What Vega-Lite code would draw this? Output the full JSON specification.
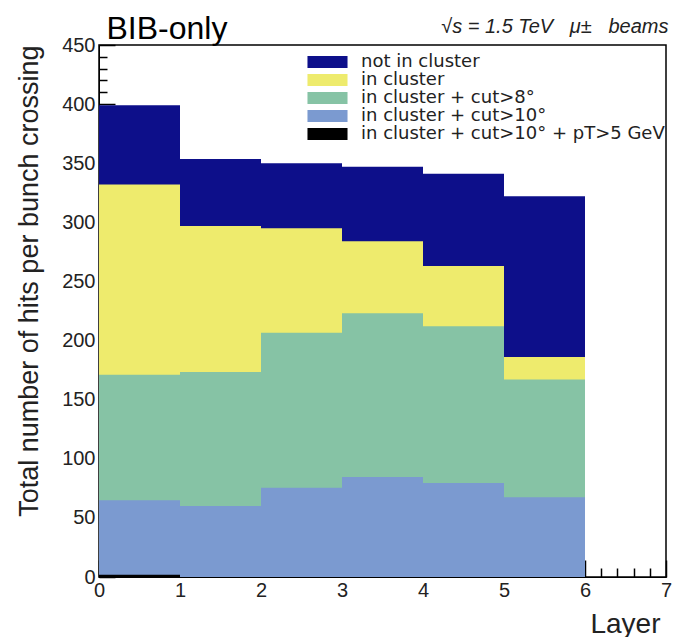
{
  "$schema": "https://vega.github.io/schema/vega-lite/v6.json",
  "width": 567,
  "height": 532,
  "autosize": {"type": "none"},
  "padding": {"left": 99, "top": 45, "right": 10, "bottom": 60},
  "background": "white",
  "config": {
    "font": "Liberation Sans",
    "view": {"stroke": "black", "strokeWidth": 1.5},
    "axis": {"grid": false, "zindex": 1, "labelFlush": false, "domainColor": "black", "tickColor": "black", "tickWidth": 1.5, "labelColor": "#222", "titleColor": "#222", "labelFont": "Liberation Sans", "titleFont": "Liberation Sans", "titleFontWeight": "normal"}
  },
  "data": {
    "values": [
      {"series": "not in cluster", "x0": 0, "x1": 1, "value": 399},
      {"series": "not in cluster", "x0": 1, "x1": 2, "value": 353.5},
      {"series": "not in cluster", "x0": 2, "x1": 3, "value": 350},
      {"series": "not in cluster", "x0": 3, "x1": 4, "value": 347},
      {"series": "not in cluster", "x0": 4, "x1": 5, "value": 341},
      {"series": "not in cluster", "x0": 5, "x1": 6, "value": 322},
      {"series": "in cluster", "x0": 0, "x1": 1, "value": 332},
      {"series": "in cluster", "x0": 1, "x1": 2, "value": 297},
      {"series": "in cluster", "x0": 2, "x1": 3, "value": 295},
      {"series": "in cluster", "x0": 3, "x1": 4, "value": 284},
      {"series": "in cluster", "x0": 4, "x1": 5, "value": 263},
      {"series": "in cluster", "x0": 5, "x1": 6, "value": 186},
      {"series": "in cluster + cut>8°", "x0": 0, "x1": 1, "value": 171},
      {"series": "in cluster + cut>8°", "x0": 1, "x1": 2, "value": 173.5},
      {"series": "in cluster + cut>8°", "x0": 2, "x1": 3, "value": 206.5},
      {"series": "in cluster + cut>8°", "x0": 3, "x1": 4, "value": 223},
      {"series": "in cluster + cut>8°", "x0": 4, "x1": 5, "value": 212},
      {"series": "in cluster + cut>8°", "x0": 5, "x1": 6, "value": 167},
      {"series": "in cluster + cut>10°", "x0": 0, "x1": 1, "value": 65},
      {"series": "in cluster + cut>10°", "x0": 1, "x1": 2, "value": 60},
      {"series": "in cluster + cut>10°", "x0": 2, "x1": 3, "value": 75.5},
      {"series": "in cluster + cut>10°", "x0": 3, "x1": 4, "value": 84.5},
      {"series": "in cluster + cut>10°", "x0": 4, "x1": 5, "value": 79.5},
      {"series": "in cluster + cut>10°", "x0": 5, "x1": 6, "value": 67.5},
      {"series": "in cluster + cut>10° + pT>5 GeV", "x0": 0, "x1": 1, "value": 2},
      {"series": "in cluster + cut>10° + pT>5 GeV", "x0": 1, "x1": 2, "value": 0},
      {"series": "in cluster + cut>10° + pT>5 GeV", "x0": 2, "x1": 3, "value": 0},
      {"series": "in cluster + cut>10° + pT>5 GeV", "x0": 3, "x1": 4, "value": 0},
      {"series": "in cluster + cut>10° + pT>5 GeV", "x0": 4, "x1": 5, "value": 0},
      {"series": "in cluster + cut>10° + pT>5 GeV", "x0": 5, "x1": 6, "value": 0}
    ]
  },
  "layer": [
    {
      "mark": {"type": "bar", "opacity": 1},
      "encoding": {
        "x": {"field": "x0", "type": "quantitative", "scale": {"domain": [0, 7], "nice": false, "zero": false},
          "axis": {"orient": "bottom", "values": [0, 1, 2, 3, 4, 5, 6, 7], "format": "d", "tickSize": -17, "labelFontSize": 20, "labelPadding": 20, "title": "Layer", "titleX": 561, "titleAlign": "right", "titleFontSize": 28, "titlePadding": 10}},
        "x2": {"field": "x1"},
        "y": {"field": "value", "type": "quantitative", "stack": null, "scale": {"domain": [0, 450], "nice": false},
          "axis": {"orient": "left", "values": [0, 50, 100, 150, 200, 250, 300, 350, 400, 450], "format": "d", "tickSize": -16, "labelFontSize": 20, "labelPadding": 20, "title": "Total number of hits per bunch crossing", "titleAnchor": "end", "titleFontSize": 27, "titlePadding": 18}},
        "y2": {"datum": 0},
        "color": {"field": "series", "type": "nominal",
          "scale": {"domain": ["not in cluster", "in cluster", "in cluster + cut>8°", "in cluster + cut>10°", "in cluster + cut>10° + pT>5 GeV"], "range": ["#0d0f8a", "#eeeb6d", "#86c3a5", "#7b9ad0", "#000000"]},
          "legend": {"orient": "none", "legendX": 219.5, "legendY": 8, "title": null, "symbolType": "M-2.67,-0.8H2.67V0.8H-2.67Z", "symbolSize": 225, "symbolStrokeWidth": 0, "symbolOpacity": 1, "labelFontSize": 18, "labelFont": "DejaVu Sans", "labelColor": "#222", "labelOffset": 24.5, "labelLimit": 400, "rowPadding": 0}}
      }
    },
    {
      "mark": {"type": "bar", "opacity": 0},
      "encoding": {
        "x": {"field": "x0", "type": "quantitative",
          "axis": {"orient": "bottom", "values": [0.2, 0.4, 0.6, 0.8, 1.2, 1.4, 1.6, 1.8, 2.2, 2.4, 2.6, 2.8, 3.2, 3.4, 3.6, 3.8, 4.2, 4.4, 4.6, 4.8, 5.2, 5.4, 5.6, 5.8, 6.2, 6.4, 6.6, 6.8], "tickSize": -9, "labels": false, "domain": false, "title": null}},
        "x2": {"field": "x1"},
        "y": {"field": "value", "type": "quantitative", "stack": null,
          "axis": {"orient": "left", "values": [10, 20, 30, 40, 60, 70, 80, 90, 110, 120, 130, 140, 160, 170, 180, 190, 210, 220, 230, 240, 260, 270, 280, 290, 310, 320, 330, 340, 360, 370, 380, 390, 410, 420, 430, 440], "tickSize": -8, "labels": false, "domain": false, "title": null}},
        "y2": {"datum": 0}
      }
    },
    {
      "mark": {"type": "bar", "opacity": 0},
      "encoding": {
        "x": {"field": "x0", "type": "quantitative",
          "axis": {"orient": "top", "labels": false, "ticks": false, "domain": false, "title": "√s = 1.5 TeV\u00a0\u00a0\u00a0μ±\u00a0\u00a0\u00a0beams", "titleX": 569, "titleY": -13, "titleAlign": "right", "titleBaseline": "alphabetic", "titleAngle": 0, "titleFontStyle": "italic", "titleFontSize": 20}},
        "x2": {"field": "x1"},
        "y": {"field": "value", "type": "quantitative", "stack": null, "axis": null},
        "y2": {"datum": 0}
      }
    },
    {
      "mark": {"type": "bar", "opacity": 0},
      "encoding": {
        "x": {"field": "x0", "type": "quantitative",
          "axis": {"orient": "top", "labels": false, "ticks": false, "domain": false, "title": "BIB-only", "titleX": 7, "titleY": -7, "titleAlign": "left", "titleBaseline": "alphabetic", "titleAngle": 0, "titleFontSize": 32, "titleColor": "black"}},
        "x2": {"field": "x1"},
        "y": {"field": "value", "type": "quantitative", "stack": null, "axis": null},
        "y2": {"datum": 0}
      }
    }
  ],
  "resolve": {"axis": {"x": "independent", "y": "independent"}}
}
